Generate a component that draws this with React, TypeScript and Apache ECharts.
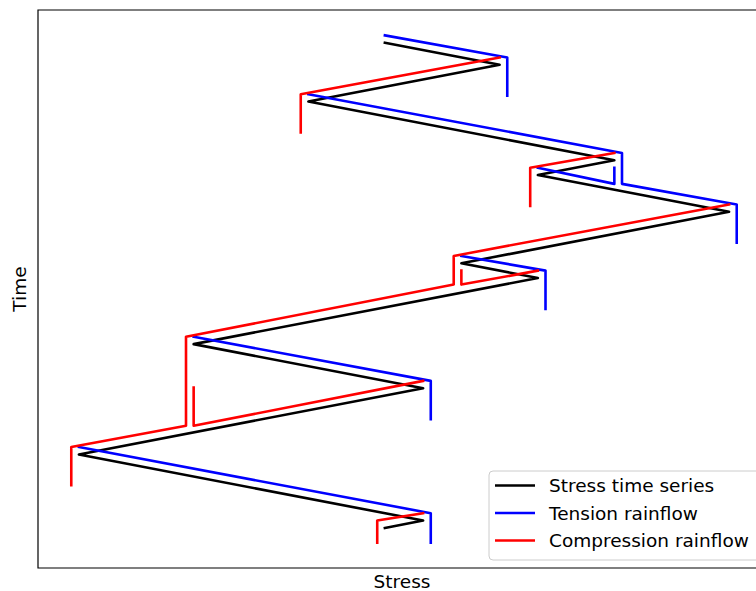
import React, { useEffect, useRef } from "react";
import * as echarts from "echarts";

// Stress time series (turning points)
const stress = [0, 3, -2, 6, 4, 9, 2, 4, -5, 1, -8, 1, 0];
const time = [0, 3, 8, 16, 18, 23, 30, 32, 41, 47, 56, 65, 66];

// Tension rainflow paths: [stress, time]
const tensionPaths: number[][][] = [
  [[0, -1], [3.2, 2], [3.2, 7.2]],
  [[-2, 7], [6.2, 15], [6.2, 19.2], [9.2, 22], [9.2, 27.2]],
  [[4, 17], [6, 19.2], [6, 17]],
  [[2, 29], [4.2, 31], [4.2, 36.2]],
  [[-5, 40], [1.2, 46], [1.2, 51.2]],
  [[-8, 55], [1.2, 64], [1.2, 68]],
];

// Compression rainflow paths: [stress, time]
const compressionPaths: number[][][] = [
  [[3, 2], [-2.2, 7], [-2.2, 12.2]],
  [[6, 15], [3.8, 17], [3.8, 22.2]],
  [[9, 22], [1.8, 29], [1.8, 32.9], [-5.2, 40], [-5.2, 52.1], [-8.2, 55], [-8.2, 60.2]],
  [[4, 31], [2, 32.9], [2, 31]],
  [[1, 46], [-5, 52.1], [-5, 46.9]],
  [[1, 64], [-0.2, 65], [-0.2, 68]],
];

const legendLabels = ["Stress time series", "Tension rainflow", "Compression rainflow"];
const xLabel = "Stress";
const yLabel = "Time";

export default function App() {
  const ref = useRef<HTMLDivElement>(null);
  useEffect(() => {
    if (!ref.current) return;
    const chart = echarts.init(ref.current, null, { renderer: "svg" });
    const font = "DejaVu Sans";
    const fs = 18.5;
    const lw = 2.6;
    const mk = (name: string, color: string, data: number[][], z: number) => ({
      type: "line",
      name,
      data,
      symbol: "none",
      showSymbol: false,
      color,
      itemStyle: { color },
      lineStyle: { color, width: lw, cap: "square", join: "round" },
      silent: true,
      z,
    });
    const series: any[] = [];
    series.push(mk(legendLabels[0], "#000000", stress.map((s, i) => [s, time[i]]), 2));
    tensionPaths.forEach((p) => series.push(mk(legendLabels[1], "#0000ff", p, 3)));
    compressionPaths.forEach((p) => series.push(mk(legendLabels[2], "#ff0000", p, 4)));

    chart.setOption({
      animation: false,
      backgroundColor: "#ffffff",
      grid: {
        left: 38,
        top: 10,
        width: 732,
        height: 558,
        containLabel: false,
        outerBoundsMode: "none",
        show: true,
        borderColor: "#000000",
        borderWidth: 1.2,
        backgroundColor: "transparent",
      },
      xAxis: {
        type: "value",
        min: -9.07,
        max: 10.07,
        name: xLabel,
        nameLocation: "middle",
        nameGap: 5,
        nameTextStyle: { fontFamily: font, fontSize: fs, lineHeight: 16, color: "#000", padding: [0, 4, 0, 0] },
        axisLine: { show: false },
        axisTick: { show: false },
        axisLabel: { show: false },
        splitLine: { show: false },
      },
      yAxis: {
        type: "value",
        inverse: true,
        min: -4.45,
        max: 71.45,
        name: yLabel,
        nameLocation: "middle",
        nameGap: 9,
        nameTextStyle: { fontFamily: font, fontSize: fs, color: "#000" },
        axisLine: { show: false },
        axisTick: { show: false },
        axisLabel: { show: false },
        splitLine: { show: false },
      },
      legend: {
        data: legendLabels,
        orient: "vertical",
        left: 489,
        top: 471,
        padding: [5, 16, 10, 6],
        itemWidth: 40,
        itemHeight: 2.6,
        itemGap: 8.5,
        icon: "rect",
        selectedMode: false,
        backgroundColor: "rgba(255,255,255,0.8)",
        borderColor: "#cccccc",
        borderWidth: 1,
        borderRadius: 4,
        textStyle: { fontFamily: font, fontSize: fs, color: "#000", padding: [0, 0, 0, 9] },
      },
      series,
    });
    return () => chart.dispose();
  }, []);
  return (
    <div
      ref={ref}
      style={{ position: "fixed", left: 0, top: 0, width: 756, height: 591, overflow: "hidden", background: "#fff" }}
    />
  );
}
